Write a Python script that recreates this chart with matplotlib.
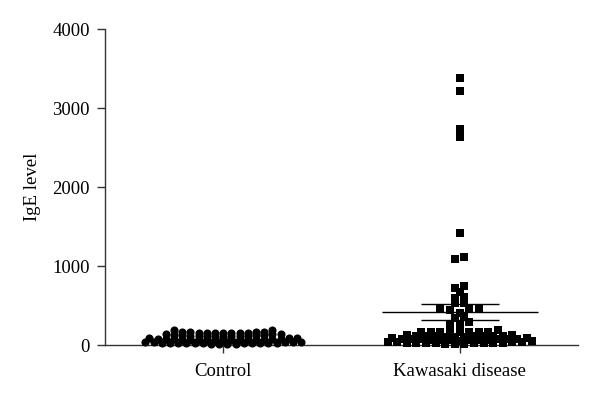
import numpy as np
import matplotlib
matplotlib.use('Agg')
import matplotlib.pyplot as plt

plt.rcParams['font.family'] = ['Liberation Serif', 'DejaVu Serif']

# Values
categories = ['Control', 'Kawasaki disease']

control = [15, 16, 18, 19, 20, 21, 22, 23, 24, 25, 26, 27, 28, 30, 31, 32, 34, 36, 40, 44,
           55, 57, 58, 60, 61, 62, 63, 64, 65, 66, 68, 70, 72, 75, 78, 82, 86, 90, 95,
           105, 108, 110, 112, 114, 116, 118, 120, 122, 125, 128, 132, 136, 140, 145,
           150, 152, 154, 155, 156, 157, 158, 160, 162, 164, 166, 190, 196]

kawasaki = [3380, 3215, 2734, 2633, 1418, 1114, 1089,
            747, 722, 671, 608, 595, 532, 532, 456, 456, 456, 443, 405, 354, 342,
            291, 253, 253, 228, 190,
            160, 162, 163, 165, 165, 167, 168, 170,
            102, 104, 106, 108, 110, 112, 114, 116, 118, 120, 125, 130,
            55, 58, 60, 62, 64, 66, 68, 70, 72, 74, 76, 78, 80, 85, 90,
            15, 16, 18, 20, 21, 22, 24, 25, 26, 28, 30, 32, 34, 36, 40, 45]

# mean and SEM as drawn on the chart
means = [70, 418]
sems = [8, 95]

markers = ['o', 's']
sizes = [34, 26]
steps_px = [8.2, 9.6]

fig = plt.figure(figsize=(6.0, 4.04), dpi=100)
ax = fig.add_axes([0.175, 0.146, 0.788, 0.782])
ax.set_xlim(-0.5, 1.5)
ax.set_ylim(0, 4000)

px_per_cat = fig.get_figwidth() * fig.dpi * 0.788 / 2.0


def bin_of(v):
    # finer rows near zero, coarser above
    if v < 200:
        return int(v // 50)
    return 100 + int(v // 80)


def swarm_offsets(vals, step_px):
    """Spread points that fall in the same value bin side by side, center outwards."""
    vals = np.asarray(vals, dtype=float)
    offs = np.zeros(len(vals))
    bins = np.array([bin_of(v) for v in vals])
    for b in np.unique(bins):
        idx = np.where(bins == b)[0]
        idx = idx[np.argsort(vals[idx])]
        n = len(idx)
        slots = (np.arange(n) - (n - 1) / 2.0) * step_px
        order = np.argsort(np.abs(slots) + np.arange(n) * 1e-6)
        for k, i in enumerate(idx):
            offs[i] = slots[order[k]]
    return offs / px_per_cat


for i, data in enumerate([control, kawasaki]):
    xs = i + swarm_offsets(data, steps_px[i])
    ax.scatter(xs, data, marker=markers[i], s=sizes[i], color='black',
               linewidths=0, clip_on=False, zorder=3)
    # mean and SEM bars
    ax.hlines(means[i], i - 0.33, i + 0.33, color='black', lw=1.0, zorder=2)
    ax.hlines([means[i] - sems[i], means[i] + sems[i]], i - 0.165, i + 0.165,
              color='black', lw=1.0, zorder=2)

ax.spines['top'].set_visible(False)
ax.spines['right'].set_visible(False)
for s in ['left', 'bottom']:
    ax.spines[s].set_color('#333333')
    ax.spines[s].set_linewidth(1.0)

ax.set_xticks([0, 1])
ax.set_xticklabels(categories)
ax.set_yticks([0, 1000, 2000, 3000, 4000])
ax.tick_params(axis='both', direction='out', length=6, width=1.0, color='#333333',
               labelsize=13.5, pad=5)
ax.tick_params(axis='x', pad=7)
ax.set_ylabel('IgE level', fontsize=13.5, labelpad=8)

fig.savefig('out.png', dpi=100)
